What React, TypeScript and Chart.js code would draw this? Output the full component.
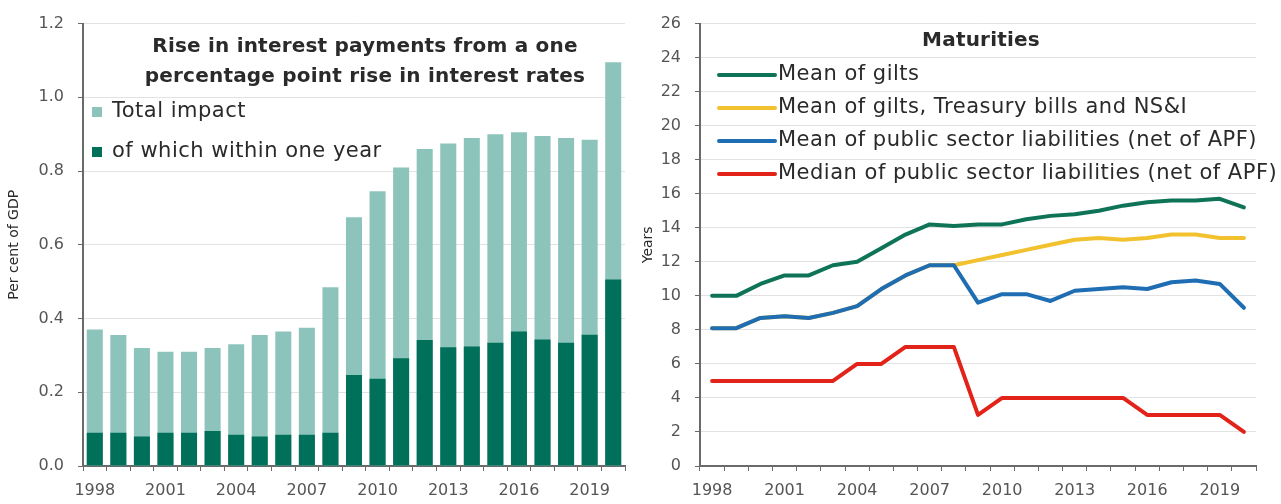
import React, { useEffect, useRef } from 'react';
import { Chart, registerables } from 'chart.js';

Chart.register(...registerables);

const years = ['1998','1999','2000','2001','2002','2003','2004','2005','2006','2007','2008','2009','2010','2011','2012','2013','2014','2015','2016','2017','2018','2019','2020'];

const totalImpact = [0.37,0.355,0.32,0.31,0.31,0.32,0.33,0.355,0.365,0.375,0.485,0.675,0.745,0.81,0.86,0.875,0.89,0.90,0.905,0.895,0.89,0.885,1.095];
const withinOneYear = [0.09,0.09,0.08,0.09,0.09,0.095,0.085,0.08,0.085,0.085,0.09,0.247,0.237,0.292,0.342,0.322,0.324,0.334,0.365,0.343,0.334,0.356,0.506];

const meanGilts = [10,10,10.7,11.2,11.2,11.8,12.0,12.8,13.6,14.2,14.1,14.2,14.2,14.5,14.7,14.8,15.0,15.3,15.5,15.6,15.6,15.7,15.2];
const meanGiltsBillsNSI = [8.1,8.1,8.7,8.8,8.7,9.0,9.4,10.4,11.2,11.8,11.8,12.1,12.4,12.7,13.0,13.3,13.4,13.3,13.4,13.6,13.6,13.4,13.4];
const meanPSL = [8.1,8.1,8.7,8.8,8.7,9.0,9.4,10.4,11.2,11.8,11.8,9.6,10.1,10.1,9.7,10.3,10.4,10.5,10.4,10.8,10.9,10.7,9.3];
const medianPSL = [5,5,5,5,5,5,6,6,7,7,7,3,4,4,4,4,4,4,3,3,3,3,2];

const leftTitle = ['Rise in interest payments from a one', 'percentage point rise in interest rates'];
const rightTitle = ['Maturities'];

const FONT = '"DejaVu Sans", Lato, sans-serif';
const TEXT = '#2a2a2a';
const TICK = '#555555';
const AXIS = '#6a6a6a';
const GRID = '#e2e2e2';

const overlayPlugin = {
  id: 'overlay',
  afterDraw(chart: any, _args: any, opts: any) {
    const ctx = chart.ctx;
    ctx.save();
    ctx.fillStyle = TEXT;
    ctx.textAlign = 'center';
    ctx.textBaseline = 'middle';
    ctx.font = `bold ${opts.titleSize}px ${FONT}`;
    (ctx as any).letterSpacing = '0.2px';
    (opts.title || []).forEach((line: string, i: number) => {
      ctx.fillText(line, opts.titleX, opts.titleY + i * opts.titleLineH);
    });
    ctx.font = `${opts.legendSize}px ${FONT}`;
    (ctx as any).letterSpacing = '0.5px';
    ctx.textAlign = 'left';
    chart.data.datasets.forEach((ds: any, i: number) => {
      const y = opts.legendY + i * opts.legendStep;
      if (opts.legendType === 'box') {
        ctx.fillStyle = ds.backgroundColor;
        ctx.fillRect(opts.legendX, y - 5, 10, 10);
        ctx.fillStyle = TEXT;
        ctx.fillText(ds.label, opts.legendX + 20, y);
      } else {
        ctx.strokeStyle = ds.borderColor;
        ctx.lineWidth = 4;
        ctx.lineCap = 'round';
        ctx.beginPath();
        ctx.moveTo(opts.legendX, y);
        ctx.lineTo(opts.legendX + 56, y);
        ctx.stroke();
        ctx.fillStyle = TEXT;
        ctx.fillText(ds.label, opts.legendX + 59, y);
      }
    });
    ctx.restore();
  },
};

function xTickCb(this: any, _v: any, index: number) {
  return index % 3 === 0 ? years[index] : '';
}

const tickFont = { family: FONT, size: 16 };

function LeftChart() {
  const ref = useRef<HTMLCanvasElement>(null);
  useEffect(() => {
    const chart = new Chart(ref.current!, {
      type: 'bar',
      data: {
        labels: years,
        datasets: [
          { label: 'Total impact', data: totalImpact, backgroundColor: '#8cc4bc', order: 2, categoryPercentage: 0.68, barPercentage: 1 },
          { label: 'of which within one year', data: withinOneYear, backgroundColor: '#00705a', order: 1, categoryPercentage: 0.68, barPercentage: 1 },
        ],
      },
      options: {
        animation: false,
        responsive: false,
        layout: { padding: { top: 22, right: 15, bottom: 0, left: 0 } },
        plugins: {
          legend: { display: false },
          tooltip: { enabled: false },
          overlay: { title: leftTitle, titleSize: 20, titleX: 365, titleY: 47, titleLineH: 30, legendType: 'box', legendSize: 21, legendX: 92, legendY: 112, legendStep: 40 },
        } as any,
        scales: {
          x: {
            stacked: true,
            grid: { drawOnChartArea: false, tickLength: 5, tickColor: AXIS, offset: true },
            border: { color: AXIS, width: 2 },
            ticks: { callback: xTickCb, autoSkip: false, maxRotation: 0, font: tickFont, color: TICK, padding: 10 },
            afterFit: (s: any) => { s.height = 38; },
          },
          y: {
            stacked: false,
            min: 0,
            max: 1.2,
            ticks: { stepSize: 0.2, callback: (v: any) => Number(v).toFixed(1), font: tickFont, color: TICK, padding: 14 },
            grid: { color: GRID, tickLength: 5, tickColor: AXIS },
            border: { color: AXIS, width: 2 },
            title: { display: true, text: 'Per cent of GDP', font: { family: FONT, size: 14 }, color: TEXT, padding: { top: 6, bottom: 0 } },
            afterFit: (s: any) => { s.width = 83; },
          },
        },
      },
      plugins: [overlayPlugin],
    });
    return () => chart.destroy();
  }, []);
  return <canvas ref={ref} width={640} height={504} style={{ position: 'absolute', left: 0, top: 0 }} />;
}

function RightChart() {
  const ref = useRef<HTMLCanvasElement>(null);
  useEffect(() => {
    const line = (label: string, data: number[], color: string, order: number) => ({
      label, data, borderColor: color, backgroundColor: color, borderWidth: 4, pointRadius: 0, tension: 0, order,
      borderJoinStyle: 'round' as const, borderCapStyle: 'round' as const,
    });
    const chart = new Chart(ref.current!, {
      type: 'line',
      data: {
        labels: years,
        datasets: [
          line('Mean of gilts', meanGilts, '#0f7358', 0),
          line('Mean of gilts, Treasury bills and NS&I', meanGiltsBillsNSI, '#f2c12e', 1),
          line('Mean of public sector liabilities (net of APF)', meanPSL, '#1f6db3', 0),
          line('Median of public sector liabilities (net of APF)', medianPSL, '#e2231a', 0),
        ],
      },
      options: {
        animation: false,
        responsive: false,
        layout: { padding: { top: 22, right: 25, bottom: 0, left: 0 } },
        plugins: {
          legend: { display: false },
          tooltip: { enabled: false },
          overlay: { title: rightTitle, titleSize: 20, titleX: 341, titleY: 41, titleLineH: 30, legendType: 'line', legendSize: 21, legendX: 79, legendY: 75, legendStep: 33 },
        } as any,
        scales: {
          x: {
            offset: true,
            grid: { drawOnChartArea: false, tickLength: 5, tickColor: AXIS, offset: true },
            border: { color: AXIS, width: 2 },
            ticks: { callback: xTickCb, autoSkip: false, maxRotation: 0, font: tickFont, color: TICK, padding: 10 },
            afterFit: (s: any) => { s.height = 38; },
          },
          y: {
            min: 0,
            max: 26,
            ticks: { stepSize: 2, font: tickFont, color: TICK, padding: 14 },
            grid: { color: GRID, tickLength: 5, tickColor: AXIS },
            border: { color: AXIS, width: 2 },
            title: { display: true, text: 'Years', font: { family: FONT, size: 14 }, color: TEXT, padding: 0 },
            afterFit: (s: any) => { s.width = 60; },
          },
        },
      },
      plugins: [overlayPlugin],
    });
    return () => chart.destroy();
  }, []);
  return <canvas ref={ref} width={641} height={504} style={{ position: 'absolute', left: 640, top: 0 }} />;
}

export default function App() {
  return (
    <div style={{ position: 'fixed', left: 0, top: 0, width: 1281, height: 504, background: '#fff', overflow: 'hidden' }}>
      <LeftChart />
      <RightChart />
    </div>
  );
}
